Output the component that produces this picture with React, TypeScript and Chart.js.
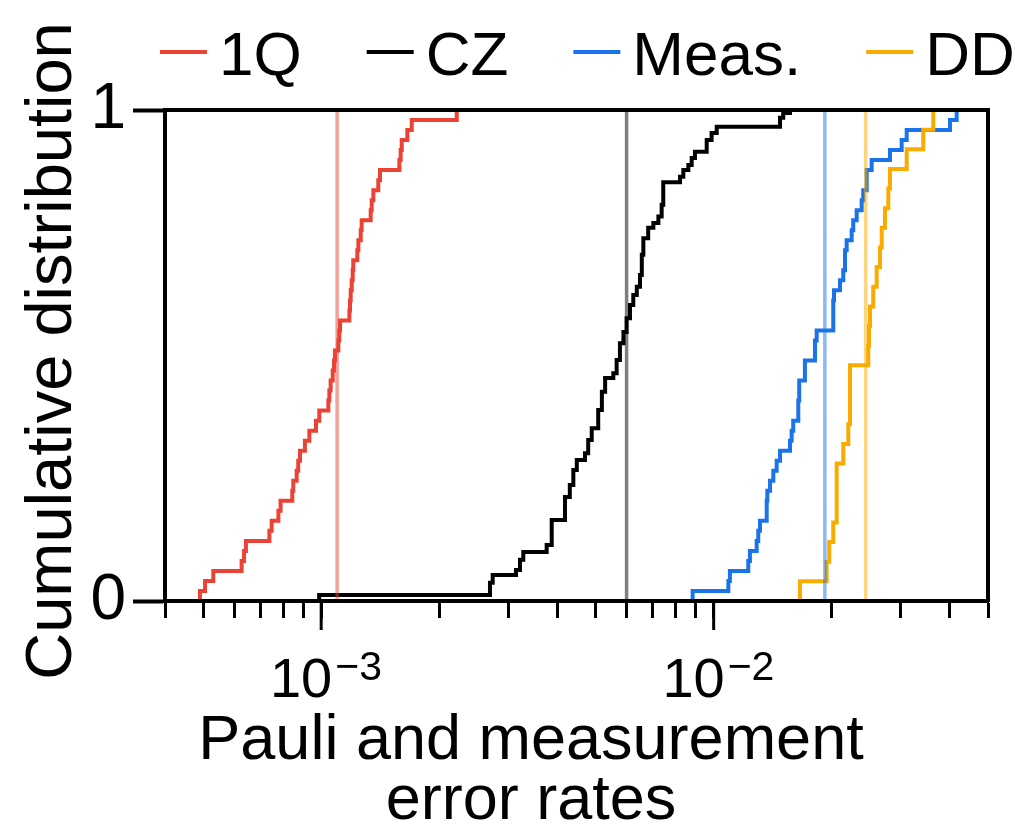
import React, { useEffect, useRef } from "react";
import { Chart, registerables } from "chart.js";

Chart.register(...registerables);

const FONT = '"Liberation Sans", Arial, Helvetica, sans-serif';

// ---- Data ----
const SERIES_LABELS = ["1Q", "CZ", "Meas.", "DD"];
const SERIES_COLORS = ["#EA4335", "#000000", "#1A73E8", "#F9AB00"];
const MEDIAN_COLORS = ["rgba(234,67,53,0.5)", "rgba(0,0,0,0.5)", "rgba(26,115,232,0.5)", "rgba(249,171,0,0.5)"];

// 1Q: error value at each step of the cumulative distribution, and the count reached there
const Q1_N = 49;
const q1X = [4.91e-4, 4.91e-4, 5.06e-4, 5.31e-4, 6.27e-4, 6.36e-4, 6.43e-4, 7.38e-4, 7.48e-4, 7.78e-4, 7.88e-4, 8.44e-4, 8.49e-4, 8.66e-4, 8.74e-4, 8.83e-4, 9.09e-4, 9.33e-4, 9.7e-4, 9.89e-4, 1.043e-3, 1.049e-3, 1.057e-3, 1.07e-3, 1.078e-3, 1.084e-3, 1.106e-3, 1.112e-3, 1.117e-3, 1.18e-3, 1.184e-3, 1.189e-3, 1.196e-3, 1.203e-3, 1.207e-3, 1.236e-3, 1.244e-3, 1.261e-3, 1.268e-3, 1.337e-3, 1.345e-3, 1.358e-3, 1.398e-3, 1.412e-3, 1.582e-3, 1.594e-3, 1.604e-3, 1.658e-3, 1.701e-3, 2.215e-3];
const q1Count = [0, 1, 2, 3, 4, 5, 6, 7, 8, 9, 10, 11, 12, 13, 14, 15, 16, 17, 18, 19, 20, 21, 22, 23, 24, 25, 26, 27, 28, 29, 30, 31, 32, 33, 34, 35, 36, 37, 38, 39, 40, 41, 42, 43, 44, 45, 46, 47, 48, 49];

// CZ: error value at each step and cumulative fraction reached there
const czX = [9.88e-4, 9.88e-4, 2.692e-3, 2.735e-3, 3.136e-3, 3.21e-3, 3.273e-3, 3.754e-3, 3.867e-3, 4.18e-3, 4.3e-3, 4.39e-3, 4.48e-3, 4.7e-3, 4.79e-3, 4.89e-3, 5.08e-3, 5.19e-3, 5.29e-3, 5.55e-3, 5.66e-3, 5.77e-3, 5.89e-3, 6.0e-3, 6.12e-3, 6.24e-3, 6.37e-3, 6.49e-3, 6.56e-3, 6.62e-3, 6.81e-3, 7.02e-3, 7.23e-3, 7.37e-3, 7.44e-3, 8.21e-3, 8.37e-3, 8.62e-3, 8.79e-3, 8.96e-3, 9.6e-3, 9.88e-3, 1.018e-2, 1.476e-2, 1.504e-2, 1.565e-2];
const czY = [0, 0.012, 0.037, 0.053, 0.063, 0.084, 0.1, 0.114, 0.165, 0.212, 0.236, 0.267, 0.287, 0.301, 0.328, 0.352, 0.389, 0.426, 0.454, 0.464, 0.491, 0.525, 0.548, 0.576, 0.603, 0.623, 0.64, 0.664, 0.705, 0.739, 0.76, 0.77, 0.783, 0.807, 0.853, 0.864, 0.878, 0.888, 0.902, 0.915, 0.939, 0.953, 0.966, 0.984, 0.994, 1.0];

// Meas.
const MEAS_N = 49;
const measX = [8.84e-3, 8.84e-3, 1.09e-2, 1.1e-2, 1.225e-2, 1.237e-2, 1.287e-2, 1.299e-2, 1.312e-2, 1.365e-2, 1.37e-2, 1.392e-2, 1.419e-2, 1.447e-2, 1.476e-2, 1.565e-2, 1.58e-2, 1.595e-2, 1.643e-2, 1.652e-2, 1.708e-2, 1.812e-2, 1.83e-2, 2.017e-2, 2.026e-2, 2.098e-2, 2.139e-2, 2.161e-2, 2.182e-2, 2.247e-2, 2.268e-2, 2.314e-2, 2.383e-2, 2.405e-2, 2.454e-2, 2.527e-2, 2.813e-2, 3.013e-2, 3.103e-2, 4.0e-2, 4.16e-2];
const measCount = [0, 1, 2, 3, 4, 5, 6, 7, 8, 10, 11, 12, 13, 14, 15, 16, 17, 18, 20, 22, 24, 26, 27, 30, 31, 32, 33, 35, 36, 37, 38, 39, 40, 41, 43, 44, 45, 46, 47, 48, 49];

// DD
const DD_N = 25;
const ddX = [1.659e-2, 1.659e-2, 1.94e-2, 1.97e-2, 2.017e-2, 2.058e-2, 2.139e-2, 2.203e-2, 2.225e-2, 2.477e-2, 2.487e-2, 2.502e-2, 2.55e-2, 2.602e-2, 2.653e-2, 2.68e-2, 2.732e-2, 2.786e-2, 2.813e-2, 3.103e-2, 3.42e-2, 3.627e-2];
const ddCount = [0, 1, 2, 3, 4, 7, 8, 9, 12, 13, 14, 15, 16, 17, 18, 19, 20, 21, 22, 23, 24, 25];

// Medians (vertical lines)
const MEDIANS = [1.098e-3, 6.0e-3, 1.92e-2, 2.44e-2];

// Axis ticks
const X_MIN = 4e-4;
const X_MAX = 5e-2;
const X_TICKS = [4e-4, 5e-4, 6e-4, 7e-4, 8e-4, 9e-4, 1e-3, 2e-3, 3e-3, 4e-3, 5e-3, 6e-3, 7e-3, 8e-3, 9e-3, 1e-2, 2e-2, 3e-2, 4e-2, 5e-2];
const X_LABEL_VALUES = [1e-3, 1e-2];
const X_LABEL_BASE = "10";
const X_LABEL_EXPONENTS = ["\u22123", "\u22122"];
const Y_TICKS = [0, 1];
const Y_TITLE = "Cumulative distribution";
const X_TITLE = ["Pauli and measurement", "error rates"];

const toPoints = (xs: number[], ys: number[]) => xs.map((x, i) => ({ x, y: ys[i] }));

const seriesData = [
  toPoints(q1X, q1Count.map((c) => c / Q1_N)),
  toPoints(czX, czY),
  toPoints(measX, measCount.map((c) => c / MEAS_N)),
  toPoints(ddX, ddCount.map((c) => c / DD_N)),
];

const drawOrder = [4, 3, 2, 1];

const extrasPlugin = {
  id: "extras",
  afterDraw(chart: any) {
    const ctx = chart.ctx as CanvasRenderingContext2D;
    const xs = chart.scales.x;
    const area = chart.chartArea;
    ctx.save();
    ctx.fillStyle = "#000";
    ctx.strokeStyle = "#000";

    // major ticks + labels 10^n
    X_LABEL_VALUES.forEach((v, i) => {
      const px = xs.getPixelForValue(v);
      ctx.lineWidth = 3;
      ctx.beginPath();
      ctx.moveTo(px, area.bottom + 2);
      ctx.lineTo(px, area.bottom + 29);
      ctx.stroke();
      ctx.textBaseline = "alphabetic";
      ctx.font = `56px ${FONT}`;
      ctx.textAlign = "right";
      ctx.fillText(X_LABEL_BASE, px + 11, area.bottom + 96);
      ctx.font = `41px ${FONT}`;
      ctx.textAlign = "left";
      ctx.fillText(X_LABEL_EXPONENTS[i], px + 14, area.bottom + 79);
    });

    // y title
    ctx.save();
    ctx.translate(71, 351);
    ctx.rotate(-Math.PI / 2);
    ctx.font = `65px ${FONT}`;
    ctx.textAlign = "center";
    ctx.textBaseline = "alphabetic";
    ctx.fillText(Y_TITLE, 0, 0);
    ctx.restore();

    // legend
    ctx.font = `62px ${FONT}`;
    ctx.textAlign = "left";
    ctx.textBaseline = "alphabetic";
    let x = 160;
    chart.data.datasets.forEach((ds: any) => {
      if (!ds.label) return;
      ctx.strokeStyle = ds.borderColor;
      ctx.lineWidth = 4;
      ctx.beginPath();
      ctx.moveTo(x, 52);
      ctx.lineTo(x + 47, 52);
      ctx.stroke();
      ctx.fillStyle = "#000";
      ctx.fillText(ds.label, x + 59, 75);
      x += 59 + ctx.measureText(ds.label).width + 65;
    });
    ctx.restore();
  },
};

export default function App() {
  const ref = useRef<HTMLCanvasElement>(null);
  useEffect(() => {
    if (!ref.current) return;
    Chart.defaults.font.family = FONT;
    Chart.defaults.color = "#000";
    const datasets: any[] = [];
    SERIES_LABELS.forEach((label, i) => {
      datasets.push({
        label,
        data: seriesData[i],
        borderColor: SERIES_COLORS[i],
        backgroundColor: SERIES_COLORS[i],
        borderWidth: 4,
        stepped: true,
        pointRadius: 0,
        fill: false,
        borderJoinStyle: "miter",
        borderCapStyle: "butt",
        order: drawOrder[i],
      });
    });
    MEDIANS.forEach((m, i) => {
      datasets.push({
        label: "",
        data: [{ x: m, y: 0 }, { x: m, y: 1 }],
        borderColor: MEDIAN_COLORS[i],
        borderWidth: 3.5,
        pointRadius: 0,
        fill: false,
        order: 0,
      });
    });
    const chart = new Chart(ref.current, {
      type: "line",
      data: { datasets },
      plugins: [extrasPlugin],
      options: {
        animation: false,
        responsive: false,
        devicePixelRatio: 1,
        events: [],
        layout: { padding: { left: 47, right: 0, top: 110, bottom: 0 } },
        plugins: {
          legend: { display: false },
          tooltip: { enabled: false },
          title: {
            display: true,
            position: "bottom",
            text: X_TITLE,
            color: "#000",
            font: { family: FONT, size: 63, weight: "normal", lineHeight: "60px" },
            padding: { top: 0, bottom: 4 },
          },
        },
        scales: {
          x: {
            type: "logarithmic",
            position: "bottom",
            min: X_MIN,
            max: X_MAX,
            afterBuildTicks: (s: any) => {
              s.ticks = X_TICKS.map((v) => ({ value: v }));
            },
            afterFit: (s: any) => {
              s.height = 111;
            },
            grid: { display: true, drawOnChartArea: false, drawTicks: true, tickLength: 17, tickWidth: 3, tickColor: "#000" },
            border: { display: true, width: 4, color: "#000", z: 1 },
            ticks: { display: false },
          },
          y: {
            type: "linear",
            position: "left",
            min: 0,
            max: 1,
            afterBuildTicks: (s: any) => {
              s.ticks = Y_TICKS.map((v) => ({ value: v }));
            },
            afterFit: (s: any) => {
              s.width = 118;
            },
            grid: { display: true, drawOnChartArea: false, drawTicks: true, tickLength: 32, tickWidth: 4, tickColor: "#000" },
            border: { display: true, width: 4, color: "#000", z: 1 },
            ticks: { padding: 7, color: "#000", font: { family: FONT, size: 64 } },
          },
          xTop: {
            type: "linear",
            position: "top",
            afterFit: (s: any) => {
              s.height = 0;
            },
            grid: { display: false },
            ticks: { display: false },
            border: { display: true, width: 4, color: "#000", z: 1 },
          },
          yRight: {
            type: "linear",
            position: "right",
            afterFit: (s: any) => {
              s.width = 27;
            },
            grid: { display: false },
            ticks: { display: false },
            border: { display: true, width: 4, color: "#000", z: 1 },
          },
        },
      } as any,
    });
    return () => chart.destroy();
  }, []);
  return (
    <canvas
      ref={ref}
      width={1015}
      height={836}
      style={{ position: "fixed", left: 0, top: 0, width: 1015, height: 836, background: "#fff" }}
    />
  );
}
